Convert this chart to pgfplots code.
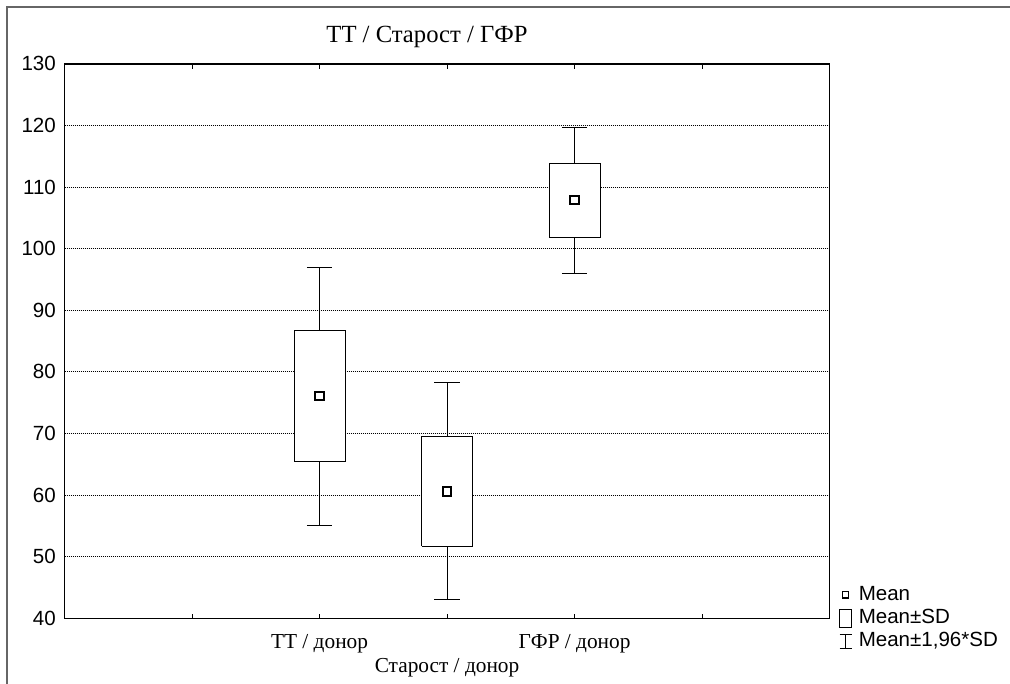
\documentclass[border=0pt]{standalone}
\usepackage{fontspec}
\setmainfont{Liberation Serif}
\setsansfont{Liberation Sans}
\usepackage{pgfplots}
\pgfplotsset{compat=1.18}

\newcommand{\sansfont}{\fontsize{15.4bp}{18bp}\selectfont\sffamily}
\newcommand{\seriffont}{\fontsize{16bp}{19bp}\selectfont\rmfamily}

\begin{document}
\begin{tikzpicture}
\useasboundingbox (0,0) rectangle (757.5bp,513bp);
% outer frame (left and top only)
\draw[black!60, line width=1.5bp] (5.5bp,0) -- (5.5bp,507.5bp) -- (757.5bp,507.5bp);
\node[font=\fontsize{18.5bp}{22bp}\selectfont\rmfamily, anchor=base, inner sep=0pt] at (320.25bp,481.3bp) {ТТ / Старост / ГФР};
\begin{axis}[
    at={(48.4bp,49.3bp)}, anchor=south west,
    width=573.75bp, height=415.8bp, scale only axis,
    xmin=0, xmax=6, ymin=40, ymax=130,
    xtick={1,2,3,4,5},
    xticklabels={,ТТ / донор,,ГФР / донор,},
    extra x ticks={3},
    extra x tick labels={Старост / донор},
    extra x tick style={xticklabel style={yshift=-18.5bp}},
    xticklabel style={font=\seriffont, anchor=base, yshift=-22.5bp},
    ytick={40,50,...,130},
    yticklabel style={font=\sansfont, xshift=-3bp},
    /pgf/number format/assume math mode=true,
    ymajorgrids,
    grid style={black, line width=0.6bp, dash pattern=on 0.75bp off 0.75bp},
    ytick style={draw=none},
    xtick style={black, line width=0.6bp},
    major tick length=3.5bp,
    tick align=inside,
    xtick pos=both,
    axis line style={black, line width=1bp},
    unbounded coords=jump,
    legend style={at={(1.0124,0.0619)}, anchor=north west, draw=none, fill=none,
        inner sep=0pt, font=\sansfont, row sep=1.5bp,
        nodes={inner sep=1bp, text height=11bp, text depth=3bp},
        /tikz/every odd column/.style={column sep=4bp}},
    legend cell align=left,
]
% box = Mean +- SD (x = position -+ 0.2)
\addplot[forget plot, black, line width=0.7bp, fill=white]
    coordinates {(1.8,65.4) (2.2,65.4) (2.2,86.7) (1.8,86.7) (1.8,65.4)};
\addplot[forget plot, black, line width=0.7bp, fill=white]
    coordinates {(2.8,51.7) (3.2,51.7) (3.2,69.5) (2.8,69.5) (2.8,51.7)};
\addplot[forget plot, black, line width=0.7bp, fill=white]
    coordinates {(3.8,101.8) (4.2,101.8) (4.2,113.9) (3.8,113.9) (3.8,101.8)};
% whiskers = Mean +- 1.96*SD
\addplot[forget plot, black, line width=0.7bp] coordinates {
    (2,86.7) (2,97.0) (2,nan) (1.9,97.0) (2.1,97.0) (2,nan)
    (2,65.4) (2,55.1) (2,nan) (1.9,55.1) (2.1,55.1) (2,nan)
    (3,69.5) (3,78.2) (3,nan) (2.9,78.2) (3.1,78.2) (3,nan)
    (3,51.7) (3,43.1) (3,nan) (2.9,43.1) (3.1,43.1) (3,nan)
    (4,113.9) (4,119.7) (4,nan) (3.9,119.7) (4.1,119.7) (4,nan)
    (4,101.8) (4,96.0) (4,nan) (3.9,96.0) (4.1,96.0)
};
% means
\addplot[forget plot, only marks, mark=square*, mark size=3.2bp,
    mark options={fill=white, draw=black, line width=1.4bp}]
    coordinates {(2,76.1) (3,60.6) (4,107.9)};

\addlegendimage{legend image code/.code={\draw[black,line width=1.1bp,fill=white] (2.2bp,-2.4bp) rectangle (6.8bp,2.4bp);}}
\addlegendentry{Mean}
\addlegendimage{legend image code/.code={\draw[black,line width=0.6bp] (0bp,-6.6bp) rectangle (9bp,6.6bp);}}
\addlegendentry{Mean±SD}
\addlegendimage{legend image code/.code={\draw[black,line width=0.6bp] (0bp,-5.1bp) -- (9bp,-5.1bp) (4.5bp,-5.1bp) -- (4.5bp,5.1bp) (0bp,5.1bp) -- (9bp,5.1bp);}}
\addlegendentry{Mean±1,96*SD}
\end{axis}
\end{tikzpicture}
\end{document}
